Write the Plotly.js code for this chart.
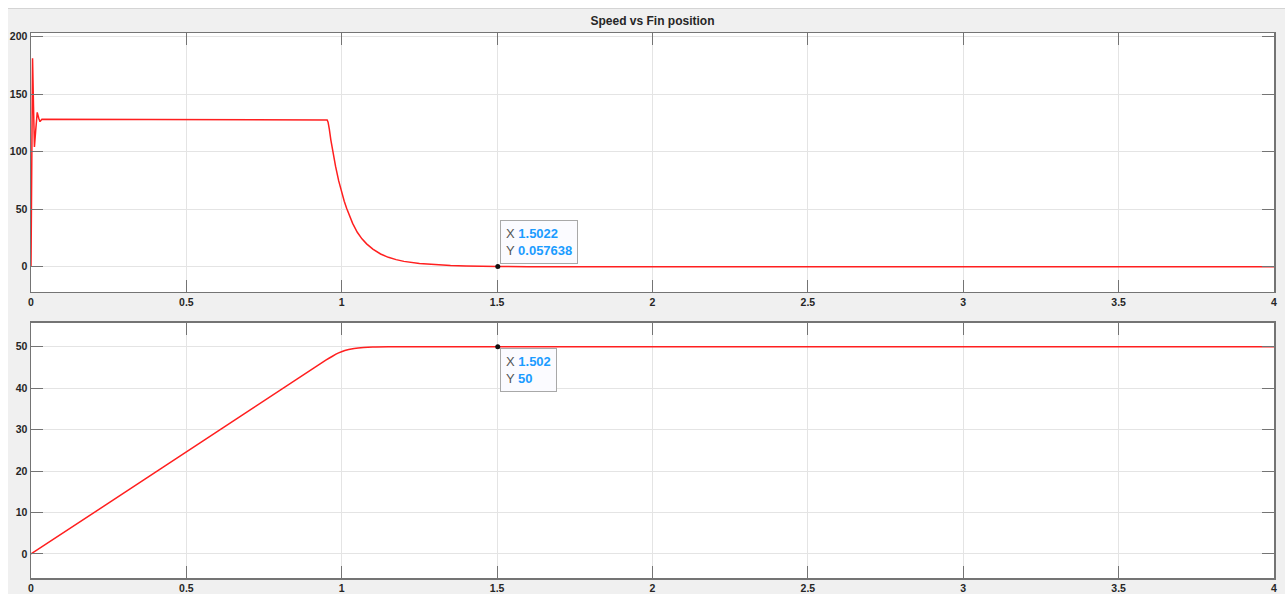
<!DOCTYPE html>
<html>
<head>
<meta charset="utf-8">
<script src="https://cdn.plot.ly/plotly-3.0.1.min.js"></script>
<style>
  html, body { margin: 0; padding: 0; background: #ffffff; width: 1285px; height: 594px; overflow: hidden; }
  #chart { position: absolute; left: 8px; top: 8px; width: 1277px; height: 586px; border-top: 1px solid #d4d4d4; }
</style>
</head>
<body>
<div id="chart"></div>
<script>
// ---- Data ----
const chartTitle = "Speed vs Fin position";

// Top panel: speed
const speedTime = [0, 0.002, 0.005, 0.008, 0.011, 0.015, 0.020, 0.025, 0.029, 0.035, 0.05,
  0.950, 0.953, 0.956, 0.958, 0.960, 0.965, 0.972, 0.980, 0.990, 1.0, 1.008, 1.016, 1.025,
  1.035, 1.05, 1.065, 1.08, 1.1, 1.125, 1.15, 1.175, 1.2, 1.25, 1.3, 1.35, 1.4, 1.45,
  1.5022, 1.6, 1.8, 2.5, 4];
const speedValue = [0, 120, 181, 140, 104, 118, 134, 129, 126, 128, 128,
  128, 127.5, 125.5, 122.8, 119.5, 110, 98.8, 87.3, 74.7, 63.9, 56.9, 50.6, 43.9,
  37.6, 29.9, 24.2, 19.8, 15.2, 11, 8.1, 6.1, 4.6, 2.8, 1.7, 1.0, 0.5, 0.2,
  0.057638, 0.01, 0.002, 0, 0];

// Bottom panel: fin position
const posTime = [0, 0.5, 0.95, 0.97, 0.99, 1.01, 1.04, 1.07, 1.1, 1.15, 1.502, 4];
const posValue = [0, 24.6, 46.8, 47.7, 48.5, 49.1, 49.55, 49.8, 49.93, 50, 50, 50];

// Data tips
const tipTopX = [1.5022], tipTopY = [0.057638];
const tipTopLabelX = "1.5022", tipTopLabelY = "0.057638";
const tipBotX = [1.502], tipBotY = [50];
const tipBotLabelX = "1.502", tipBotLabelY = "50";

// Axis ticks
const xTicks = [0, 0.5, 1, 1.5, 2, 2.5, 3, 3.5, 4];
const xTickText = ["0", "0.5", "1", "1.5", "2", "2.5", "3", "3.5", "4"];
const ySpeedTicks = [0, 50, 100, 150, 200];
const yPosTicks = [0, 10, 20, 30, 40, 50];

// ---- Styling ----
const axisColor = "#747474";
const gridColor = "#e4e4e4";
const tickFont = { family: "Liberation Sans, Arial, sans-serif", size: 10.5, color: "#262626", weight: "bold" };

function xAxis(anchor) {
  return {
    anchor: anchor, range: [0, 4], tickvals: xTicks, ticktext: xTickText,
    ticks: "inside", ticklen: 12, tickwidth: 1, tickcolor: axisColor,
    showline: true, linecolor: axisColor, linewidth: 1.5, mirror: "ticks",
    showgrid: true, gridcolor: gridColor, gridwidth: 1, zeroline: false,
    tickfont: tickFont, fixedrange: true
  };
}
function yAxis(anchor, domain, range, ticks) {
  return {
    anchor: anchor, domain: domain, range: range, tickvals: ticks,
    ticks: "inside", ticklen: 12, tickwidth: 1, tickcolor: axisColor,
    showline: true, linecolor: axisColor, linewidth: 1.5, mirror: "ticks",
    showgrid: true, gridcolor: gridColor, gridwidth: 1, zeroline: false,
    tickfont: tickFont, fixedrange: true
  };
}

const traces = [
  { x: speedTime, y: speedValue, xaxis: "x", yaxis: "y", type: "scatter", mode: "lines",
    line: { color: "#ff1f1f", width: 1.5 }, hoverinfo: "skip" },
  { x: posTime, y: posValue, xaxis: "x2", yaxis: "y2", type: "scatter", mode: "lines",
    line: { color: "#ff1f1f", width: 1.5, shape: "spline", smoothing: 0.6 }, hoverinfo: "skip" },
  { x: tipTopX, y: tipTopY, xaxis: "x", yaxis: "y", type: "scatter", mode: "markers",
    marker: { color: "#111111", size: 5 }, hoverinfo: "skip" },
  { x: tipBotX, y: tipBotY, xaxis: "x2", yaxis: "y2", type: "scatter", mode: "markers",
    marker: { color: "#111111", size: 5 }, hoverinfo: "skip" }
];

function tipText(xs, ys) {
  return '<span style="color:#555555">X </span><span style="color:#1a9bff;font-weight:bold">' + xs + '</span><br>' +
         '<span style="color:#555555">Y </span><span style="color:#1a9bff;font-weight:bold">' + ys + '</span>';
}

const layout = {
  width: 1277, height: 585,
  paper_bgcolor: "#f0f0f0", plot_bgcolor: "#ffffff",
  margin: { l: 23, r: 11, t: 24, b: 16 },
  showlegend: false,
  title: { text: chartTitle, x: 0.5, xref: "paper", y: 1 - 12 / 585, yref: "container", yanchor: "middle",
    font: { family: "Liberation Sans, Arial, sans-serif", size: 12, color: "#262626", weight: "bold" } },
  xaxis: xAxis("y"),
  yaxis: yAxis("x", [0.5248, 1], [-22, 203], ySpeedTicks),
  xaxis2: xAxis("y2"),
  yaxis2: yAxis("x2", [0, 0.4685], [-5.8, 55.8], yPosTicks),
  annotations: [
    { xref: "x", yref: "y", x: tipTopX[0], y: tipTopY[0], xanchor: "left", yanchor: "bottom",
      xshift: 2, yshift: 3, showarrow: false, align: "left", text: tipText(tipTopLabelX, tipTopLabelY),
      font: { family: "Liberation Sans, Arial, sans-serif", size: 13 },
      bgcolor: "#fbfbff", bordercolor: "#a8a8a8", borderwidth: 1, borderpad: 5 },
    { xref: "x2", yref: "y2", x: tipBotX[0], y: tipBotY[0], xanchor: "left", yanchor: "top",
      xshift: 2, yshift: -1, showarrow: false, align: "left", text: tipText(tipBotLabelX, tipBotLabelY),
      font: { family: "Liberation Sans, Arial, sans-serif", size: 13 },
      bgcolor: "#fbfbff", bordercolor: "#a8a8a8", borderwidth: 1, borderpad: 5 }
  ]
};

Plotly.newPlot("chart", traces, layout, { displayModeBar: false, staticPlot: true });
</script>
</body>
</html>
